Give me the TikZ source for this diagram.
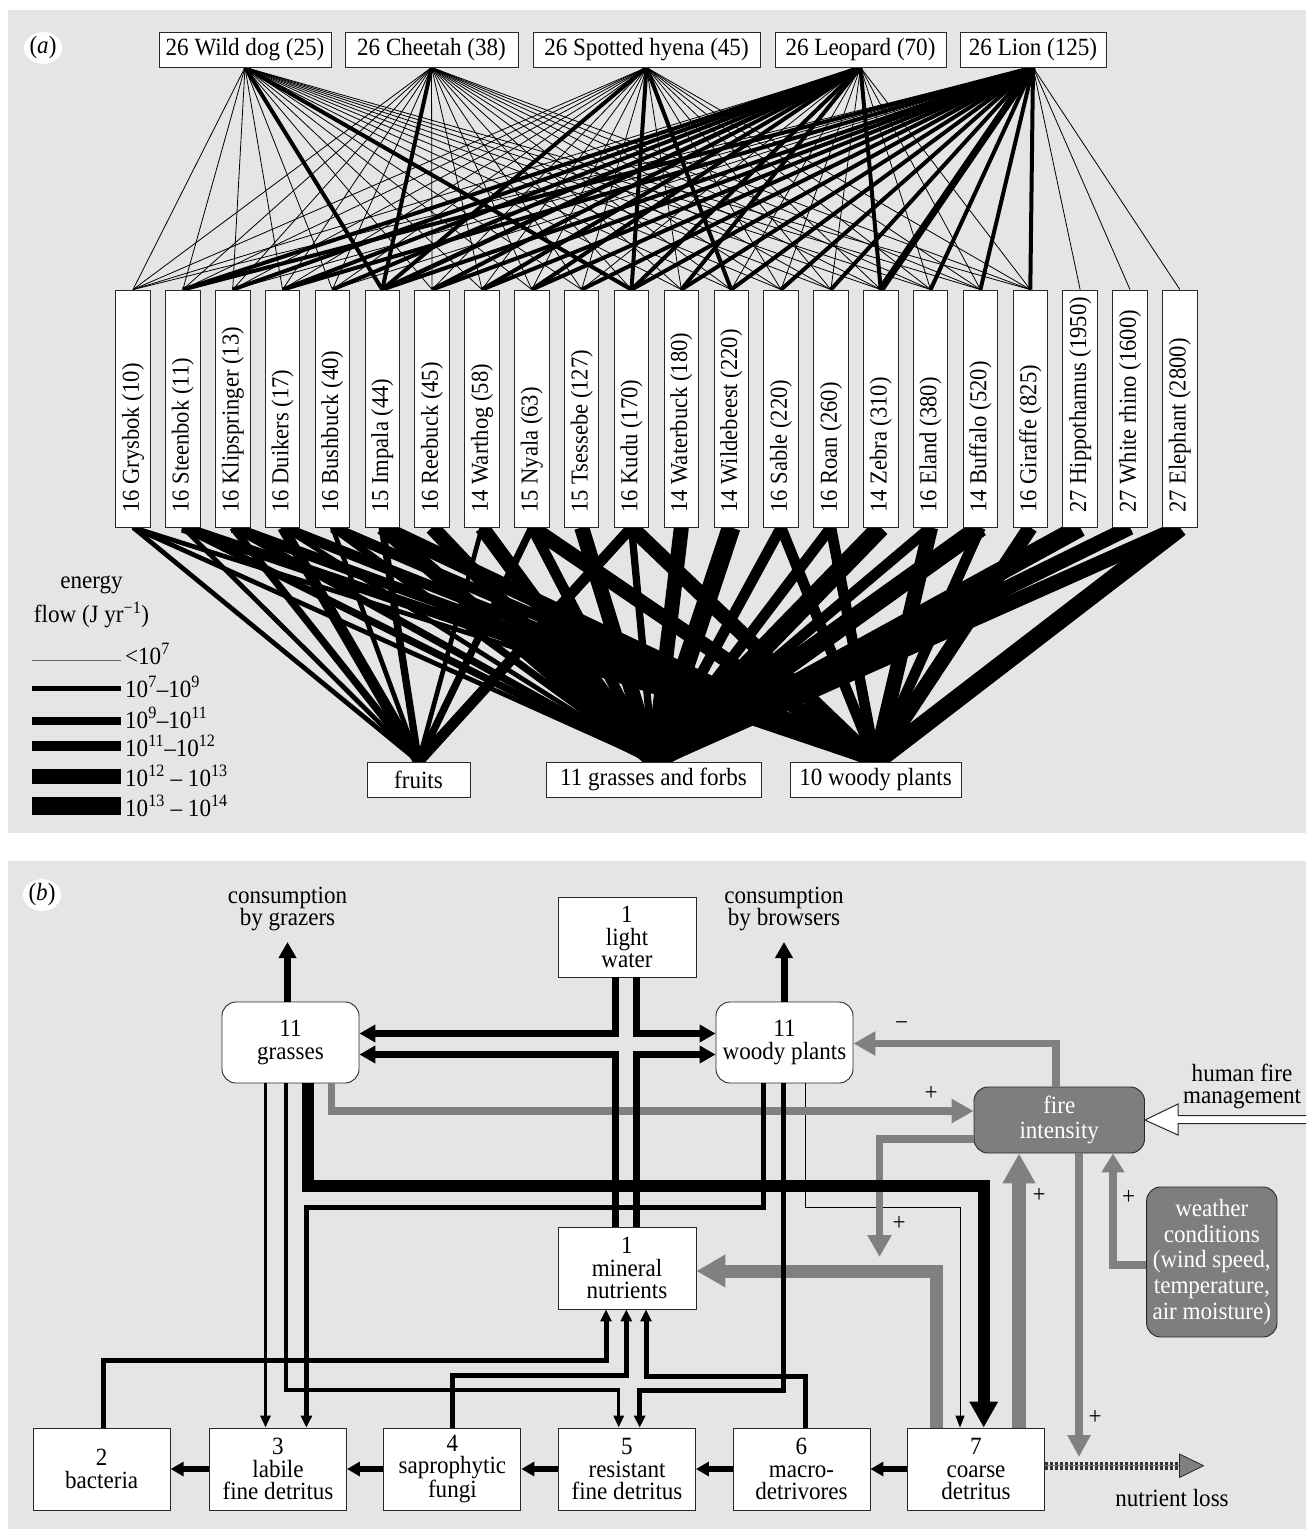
\documentclass[tikz,border=0pt]{standalone}
\usepackage{fontspec}
\setmainfont{Liberation Serif}[FakeStretch=0.93]
\usetikzlibrary{arrows.meta,calc,shapes.geometric}
\pgfdeclarelayer{panel}
\pgfdeclarelayer{edges}
\pgfsetlayers{panel,edges,main}
\definecolor{panelbg}{RGB}{229,229,229}
\definecolor{flowgray}{RGB}{128,128,128}
\definecolor{darkbox}{RGB}{126,126,126}
\definecolor{boxline}{RGB}{40,40,40}
\tikzset{
  boxa/.style={draw=boxline, line width=0.9pt, fill=white, inner sep=0pt},
  preybox/.style={boxa, minimum width=34.5pt, minimum height=237pt},
  topbox/.style={boxa, minimum height=35pt},
  rbox/.style={boxa, rounded corners=14pt, align=center, minimum width=137pt, minimum height=81pt},
  sbox/.style={boxa, align=center, minimum width=137pt, minimum height=82pt},
  dbox/.style={draw=boxline, line width=0.9pt, fill=darkbox, text=white, rounded corners=14pt, align=center, inner sep=0pt},
  lbl/.style={fill=white, ellipse, minimum width=36pt, minimum height=30pt, inner sep=0pt},
  arrA/.style={line width=7pt, -{Triangle[length=16pt,width=17pt]}},
  arrB/.style={line width=3.5pt, -{Triangle[length=12pt,width=10pt]}},
  arrC/.style={line width=5pt, -{Triangle[length=12pt,width=11pt]}},
  arrH/.style={line width=5.5pt, -{Triangle[length=13pt,width=14pt]}},
  arrT/.style={line width=1pt, -{Triangle[length=12pt,width=9pt]}},
  arrK/.style={line width=12pt, -{Triangle[length=26pt,width=27pt]}},
  garr/.style={draw=flowgray, line width=7.5pt, -{Triangle[length=22pt,width=23pt]}},
  garrK/.style={draw=flowgray, line width=13pt, -{Triangle[length=29pt,width=31pt]}},
}
\begin{document}
\begin{tikzpicture}[x=1pt,y=-1pt,font=\fontsize{24.8}{22.5}\selectfont]
\useasboundingbox (0,0) rectangle (1311,1531);
\begin{pgfonlayer}{panel}
\fill[panelbg] (8,10) rectangle (1306,833);
\fill[panelbg] (8,861) rectangle (1306,1529);
\end{pgfonlayer}

% ================= panel (a) =================
\node[lbl] (lbla) at (43,48) {(\textit{a})};

\node[topbox, minimum width=172pt] (wd) at (245,49.5) {26 Wild dog (25)};
\node[topbox, minimum width=173pt] (ch) at (431.5,49.5) {26 Cheetah (38)};
\node[topbox, minimum width=227pt] (hy) at (646.5,49.5) {26 Spotted hyena (45)};
\node[topbox, minimum width=171pt] (le) at (860.5,49.5) {26 Leopard (70)};
\node[topbox, minimum width=146pt] (li) at (1033,49.5) {26 Lion (125)};

\foreach \i/\lab in {0/16 Grysbok (10),1/16 Steenbok (11),2/16 Klipspringer (13),3/16 Duikers (17),4/16 Bushbuck (40),5/15 Impala (44),6/16 Reebuck (45),7/14 Warthog (58),8/15 Nyala (63),9/15 Tsessebe (127),10/16 Kudu (170),11/14 Waterbuck (180),12/14 Wildebeest (220),13/16 Sable (220),14/16 Roan (260),15/14 Zebra (310),16/16 Eland (380),17/14 Buffalo (520),18/16 Giraffe (825),19/27 Hippothamus (1950),20/27 White rhino (1600),21/27 Elephant (2800)} {
  \node[preybox] (p\i) at ({133+49.85*\i},408.5) {};
  \node[rotate=90, anchor=west, inner sep=0pt, font=\fontsize{24.3}{22}\selectfont] (pl\i) at ({133+49.85*\i},513) {\lab};
}

\node[topbox, minimum width=103pt] (fr) at (418.5,779.5) {fruits};
\node[topbox, minimum width=215pt] (gr) at (653.5,779.5) {11 grasses and forbs};
\node[topbox, minimum width=171pt] (wo) at (875.5,779.5) {10 woody plants};

\begin{pgfonlayer}{edges}
% predators -> prey (thin)
\foreach \pr in {wd,ch,hy,le,li} {
  \foreach \i in {0,...,18} { \draw[line width=0.8pt] (\pr.south) -- (p\i.north); }
}
\foreach \i in {19,20,21} { \draw[line width=0.8pt] (li.south) -- (p\i.north); }
% predators -> prey (thick)
\foreach \pr/\i/\w in {wd/5/4,wd/10/4,ch/5/4,hy/5/4,hy/10/4,hy/12/4,
  le/1/4,le/2/4,le/3/4,le/4/4,le/5/4.5,le/6/4,le/7/4,le/8/4,le/10/4,le/11/4,le/15/4,
  li/1/4,li/3/4,li/5/4,li/6/4,li/7/4,li/8/4,li/9/4,li/10/4,li/11/4,li/12/4,li/13/4,li/14/4,li/15/7,li/16/4,li/17/4,li/18/4}
  { \draw[line width=\w pt] (\pr.south) -- (p\i.north); }
% herbivores -> plants
\foreach \i/\tg/\w in {0/fr/4.7,0/gr/4.7,0/wo/4.7,
  1/fr/4.7,1/gr/7.3,1/wo/10.7,
  2/fr/7.3,2/gr/7.3,2/wo/10.7,
  3/fr/10.7,3/gr/4.7,3/wo/10.7,
  4/fr/4.7,4/gr/7.3,4/wo/10.7,
  5/fr/7.3,5/gr/15,5/wo/15,
  6/gr/15,
  7/fr/4.7,7/gr/15,
  8/fr/7.3,8/gr/10.7,8/wo/15,
  9/gr/15,
  10/fr/10.7,10/gr/7.3,10/wo/15,
  11/gr/15,
  12/gr/18.7,
  13/gr/10.7,13/wo/10.7,
  14/gr/10.7,14/wo/10.7,
  15/gr/18.7,
  16/gr/10.7,16/wo/15,
  17/gr/18.7,17/wo/10.7,
  18/wo/15,
  19/gr/18.7,
  20/gr/15,
  21/gr/15,21/wo/18.7}
  { \draw[line width=\w pt] (p\i.south) -- (\tg.north); }
\end{pgfonlayer}

% legend
\node (leg1) at (91.5,585) {energy};
\node (leg2) at (91.5,615) {flow (J yr\textsuperscript{−1})};
\draw[line width=1pt, black!60] (31.6,660) -- (120.8,660);
\draw[line width=4.7pt] (31.6,688.3) -- (120.8,688.3);
\draw[line width=7.3pt] (31.6,721) -- (120.8,721);
\draw[line width=10.7pt] (31.6,746) -- (120.8,746);
\draw[line width=15pt] (31.6,776) -- (120.8,776);
\draw[line width=18.7pt] (31.6,806) -- (120.8,806);
\node[anchor=base west, inner sep=0pt] (lg1) at (125,664) {<10\textsuperscript{7}};
\node[anchor=base west, inner sep=0pt] (lg2) at (125,697) {10\textsuperscript{7}–10\textsuperscript{9}};
\node[anchor=base west, inner sep=0pt] (lg3) at (125,728) {10\textsuperscript{9}–10\textsuperscript{11}};
\node[anchor=base west, inner sep=0pt] (lg4) at (125,756) {10\textsuperscript{11}–10\textsuperscript{12}};
\node[anchor=base west, inner sep=0pt] (lg5) at (125,786) {10\textsuperscript{12} – 10\textsuperscript{13}};
\node[anchor=base west, inner sep=0pt] (lg6) at (125,816) {10\textsuperscript{13} – 10\textsuperscript{14}};

% ================= panel (b) =================
\node[lbl] (lblb) at (42,895) {(\textit{b})};

\node[align=center] (tgz) at (287.5,909) {consumption\\by grazers};
\node[align=center] (tbr) at (784,909) {consumption\\by browsers};
\node[sbox, minimum width=138pt, minimum height=80pt] (light) at (627,937) {1\\light\\water};
\node[rbox] (grs) at (290.5,1042.5) {11\\grasses};
\node[rbox] (wdy) at (784.5,1042.5) {11\\woody plants};
\node[dbox, minimum width=170.5pt, minimum height=66pt] (fire) at (1059.25,1120) {fire\\[2pt]intensity};
\node[dbox, minimum width=130.4pt, minimum height=150pt, font=\fontsize{24.8}{25.7}\selectfont] (wea) at (1211.8,1262) {weather\\conditions\\(wind speed,\\temperature,\\air moisture)};
\node[sbox, minimum width=138pt] (mineral) at (627,1268) {1\\mineral\\nutrients};
\node[sbox] (bact) at (101.7,1469) {2\\bacteria};
\node[sbox] (lab) at (278,1469) {3\\labile\\fine detritus};
\node[sbox] (fung) at (452.4,1469) {4\\saprophytic\\fungi};
\node[sbox] (res) at (627,1469) {5\\resistant\\fine detritus};
\node[sbox] (mac) at (801.5,1469) {6\\macro-\\detrivores};
\node[sbox] (coarse) at (976,1469) {7\\coarse\\detritus};
\node[align=center] (hfm) at (1242,1086.5) {human fire\\management};
\node (nlt) at (1172,1498) {nutrient loss};

% helper coordinates
\coordinate (cg) at (287.5,942);
\coordinate (cb) at (784,942);
\coordinate (xL) at (615.5,0);
\coordinate (xR) at (636.5,0);
\coordinate (yU) at (0,1033.5);
\coordinate (yD) at (0,1054.5);
\coordinate (k1) at (307.7,1186);
\coordinate (k2) at (983.7,1186);
\coordinate (e1) at (265.5,0);
\coordinate (e2) at (286,1390);
\coordinate (e3) at (618.7,1390);
\coordinate (g1) at (331.3,1111);
\coordinate (f1) at (763.6,1207);
\coordinate (f2) at (306.4,1207);
\coordinate (f3) at (783.8,1390);
\coordinate (f4) at (639.7,1390);
\coordinate (t1) at (805.7,1207);
\coordinate (t2) at (960,1207);
\coordinate (h1) at (103,1360);
\coordinate (h2) at (606,1360);
\coordinate (h3) at (452.4,1375);
\coordinate (h4) at (626.3,1375);
\coordinate (h5) at (805,1376);
\coordinate (h6) at (646,1376);
\coordinate (j1) at (1056,1043.5);
\coordinate (l1) at (879.5,1139);
\coordinate (l2) at (879.5,1257);
\coordinate (m1) at (936,1271);
\coordinate (n1) at (1019,0);
\coordinate (o1) at (1113,1265);
\coordinate (q1) at (1079,1457);
\coordinate (nl) at (1179.5,1465.7);

% thin woody -> coarse
\draw[arrT] (wdy.south -| t1) -- (t1) -- (t2) -- (coarse.north -| t2);

% gray flows
\draw[garr] (grs.south -| g1) -- (g1) -- (fire.west |- g1);
\draw[garr] (fire.north -| j1) -- (j1) -- (wdy.east |- j1);
\draw[garr] (fire.west |- l1) -- (l1) -- (l2);
\draw[garrK] (coarse.north -| m1) -- (m1) -- (mineral.east |- m1);
\draw[draw=flowgray, line width=14pt, -{Triangle[length=30pt,width=31pt]}] (coarse.north -| n1) -- (fire.south -| n1);
\draw[draw=flowgray, line width=7.5pt, -{Triangle[length=19pt,width=22pt]}] (wea.west |- o1) -- (o1) -- (fire.south -| o1);
\draw[draw=flowgray, line width=8pt, -{Triangle[length=22pt,width=22pt]}] (fire.south -| q1) -- (q1);

% black flows
\draw[arrA] (grs.north -| cg) -- (cg);
\draw[arrA] (wdy.north -| cb) -- (cb);
\draw[arrA] (light.south -| xL) -- (xL |- yU) -- (grs.east |- yU);
\draw[arrA] (light.south -| xR) -- (xR |- yU) -- (wdy.west |- yU);
\draw[arrA] (mineral.north -| xL) -- (xL |- yD) -- (grs.east |- yD);
\draw[arrA] (mineral.north -| xR) -- (xR |- yD) -- (wdy.west |- yD);
\draw[arrK] (grs.south -| k1) -- (k1) -- (k2) -- (coarse.north -| k2);
\draw[arrB] (grs.south -| e1) -- (lab.north -| e1);
\draw[arrB] (grs.south -| e2) -- (e2) -- (e3) -- (res.north -| e3);
\draw[arrC] (wdy.south -| f1) -- (f1) -- (f2) -- (lab.north -| f2);
\draw[arrC] (wdy.south -| f3) -- (f3) -- (f4) -- (res.north -| f4);
\draw[arrC] (bact.north -| h1) -- (h1) -- (h2) -- (mineral.south -| h2);
\draw[arrC] (fung.north -| h3) -- (h3) -- (h4) -- (mineral.south -| h4);
\draw[arrC] (mac.north -| h5) -- (h5) -- (h6) -- (mineral.south -| h6);
\draw[arrH] (coarse.west) -- (mac.east);
\draw[arrH] (mac.west) -- (res.east);
\draw[arrH] (res.west) -- (fung.east);
\draw[arrH] (fung.west) -- (lab.east);
\draw[arrH] (lab.west) -- (bact.east);

% nutrient loss
\draw[line width=8pt, black!80, dash pattern=on 3.5pt off 1.5pt] (coarse.east |- nl) -- (nl);
\draw[line width=1.5pt, flowgray] (coarse.east |- nl) -- (nl);
\filldraw[fill=flowgray, draw=boxline, line width=0.8pt] (nl) -- ++(0,-11.7) -- ++(24,11.7) -- ++(-24,11.8) -- cycle;

% human fire management
\draw[draw=boxline, line width=1pt, fill=white] (1306,1115.5) -- (1178,1115.5) -- (1178,1104) -- (fire.east) -- (1178,1135) -- (1178,1123.5) -- (1306,1123.5);

% signs
\node (s1) at (901.7,1026) {−};
\node (s2) at (931,1093) {+};
\node (s3) at (899,1223) {+};
\node (s4) at (1039,1195) {+};
\node (s5) at (1128.5,1197) {+};
\node (s6) at (1095,1417) {+};
\end{tikzpicture}
\end{document}
